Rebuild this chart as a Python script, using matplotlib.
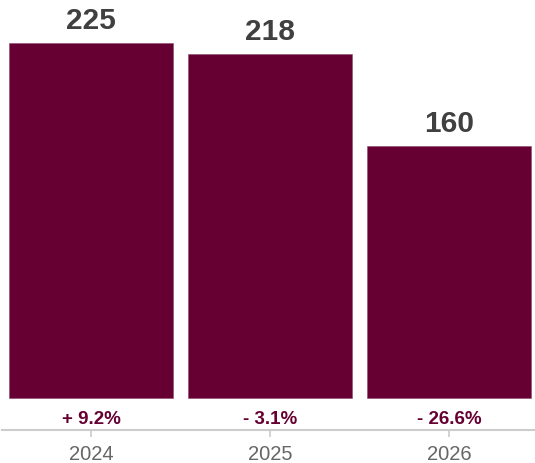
import matplotlib.pyplot as plt

# Dados
anos = ["2024", "2025", "2026"]
valores = [225, 218, 160]
variacoes = ["+ 9.2%", "- 3.1%", "- 26.6%"]

cor_barra = "#660033"

plt.rcParams["font.family"] = ["Liberation Sans", "DejaVu Sans"]

fig = plt.figure(figsize=(5.35, 4.64), dpi=100)
ax = fig.add_axes([2 / 535, 33 / 464, 533 / 535, 431 / 464])

x = range(len(anos))
ax.bar(x, valores, width=0.916, color=cor_barra,
       edgecolor="#8a4a6a", linewidth=0.4)

ax.set_xlim(-0.497, 2.48)
ax.set_ylim(-20.3, 253)

# Valor acima de cada barra
for xi, v in zip(x, valores):
    ax.annotate(str(v), (xi, v), xytext=(0, 15), textcoords="offset pixels",
                ha="center", va="baseline", fontsize=21.5, fontweight="bold",
                color="#404040")

# Variação percentual abaixo de cada barra
for xi, txt in zip(x, variacoes):
    ax.annotate(txt, (xi, 0), xytext=(0, -25), textcoords="offset pixels",
                ha="center", va="baseline", fontsize=13.5, fontweight="bold",
                color=cor_barra)

ax.set_xticks(list(x))
ax.set_xticklabels(anos, fontsize=14.5, color="#666666")
ax.tick_params(axis="x", length=5, width=1.2, color="#cccccc", pad=5)
ax.set_yticks([])

for lado in ["top", "right", "left"]:
    ax.spines[lado].set_visible(False)
ax.spines["bottom"].set_color("#cccccc")
ax.spines["bottom"].set_linewidth(1.5)

fig.savefig("out.png", dpi=100)
